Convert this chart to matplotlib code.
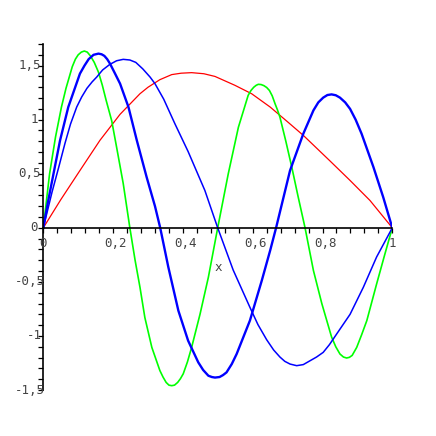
import matplotlib
matplotlib.use("Agg")
import matplotlib.pyplot as plt
import numpy as np

# curves (x, y)
red_x = [0, 0.05, 0.105, 0.1625, 0.22, 0.277, 0.30, 0.334, 0.368, 0.395, 0.425, 0.46, 0.492,
         0.549, 0.597, 0.65, 0.70, 0.745, 0.82, 0.879, 0.936, 1.0]
red_y = [0, 0.26, 0.53, 0.81, 1.05, 1.24, 1.30, 1.37, 1.417, 1.43, 1.435, 1.425, 1.40,
         1.318, 1.24, 1.117, 0.98, 0.855, 0.623, 0.438, 0.253, 0]

green_x = [0, 0.018, 0.035, 0.052, 0.065, 0.083, 0.092, 0.10, 0.109, 0.1175, 0.126, 0.135,
           0.146, 0.158, 0.169, 0.18, 0.196, 0.21, 0.229, 0.248, 0.263, 0.277, 0.291, 0.311,
           0.334, 0.343, 0.352, 0.36, 0.368, 0.376, 0.385, 0.393, 0.401, 0.413, 0.425, 0.449,
           0.473, 0.4997, 0.53, 0.559, 0.587, 0.595, 0.603, 0.61, 0.616, 0.624, 0.632, 0.64,
           0.648, 0.656, 0.664, 0.671, 0.678, 0.695, 0.712, 0.73, 0.75, 0.774, 0.798, 0.826,
           0.838, 0.85, 0.86, 0.869, 0.877, 0.885, 0.898, 0.912, 0.927, 0.955, 0.979, 1.0]
green_y = [0, 0.5, 0.84, 1.117, 1.29, 1.49, 1.56, 1.60, 1.625, 1.635, 1.625, 1.59,
           1.53, 1.44, 1.32, 1.18, 0.99, 0.746, 0.41, 0, -0.30, -0.55, -0.83, -1.106,
           -1.32, -1.38, -1.43, -1.455, -1.46, -1.455, -1.43, -1.395, -1.35, -1.24, -1.106, -0.80,
           -0.457, 0, 0.5, 0.93, 1.225, 1.27, 1.30, 1.318, 1.327, 1.325, 1.315, 1.298,
           1.27, 1.22, 1.148, 1.09, 1.024, 0.80, 0.561, 0.29, 0, -0.395, -0.70, -1.01,
           -1.10, -1.167, -1.195, -1.204, -1.198, -1.18, -1.106, -0.99, -0.858, -0.52, -0.24, 0]

blue_thin_x = [0, 0.025, 0.045, 0.062, 0.078, 0.0957, 0.11, 0.125, 0.14, 0.153, 0.17, 0.19,
               0.21, 0.229, 0.248, 0.265, 0.285, 0.306, 0.32, 0.345, 0.377, 0.415, 0.463,
               0.4997, 0.544, 0.592, 0.615, 0.64, 0.66, 0.678, 0.692, 0.707, 0.726, 0.745,
               0.764, 0.783, 0.802, 0.82, 0.841, 0.879, 0.917, 0.955, 1.0]
blue_thin_y = [0, 0.33, 0.57, 0.78, 0.96, 1.117, 1.21, 1.29, 1.35, 1.394, 1.46, 1.51,
               1.545, 1.558, 1.552, 1.53, 1.47, 1.394, 1.333, 1.19, 0.963, 0.705, 0.345,
               0, -0.39, -0.735, -0.895, -1.035, -1.13, -1.195, -1.235, -1.26, -1.275, -1.265,
               -1.23, -1.195, -1.152, -1.08, -0.98, -0.80, -0.55, -0.27, 0]

blue_thick_x = [0, 0.014, 0.048, 0.0716, 0.105, 0.118, 0.13, 0.144, 0.158, 0.167, 0.175, 0.183,
                0.191, 0.205, 0.22, 0.244, 0.268, 0.296, 0.32, 0.335, 0.358, 0.387, 0.415,
                0.444, 0.458, 0.473, 0.483, 0.492, 0.505, 0.515, 0.525, 0.54, 0.554, 0.592,
                0.626, 0.65, 0.667, 0.707, 0.745, 0.774, 0.788, 0.802, 0.814, 0.826, 0.838,
                0.85, 0.865, 0.879, 0.895, 0.912, 0.946, 0.974, 1.0]
blue_thick_y = [0, 0.25, 0.808, 1.117, 1.426, 1.50, 1.56, 1.60, 1.611, 1.605, 1.59, 1.56,
                1.519, 1.43, 1.333, 1.117, 0.808, 0.47, 0.20, 0, -0.36, -0.766, -1.044,
                -1.244, -1.315, -1.368, -1.38, -1.385, -1.38, -1.362, -1.337, -1.26, -1.167, -0.858,
                -0.488, -0.21, 0, 0.53, 0.87, 1.086, 1.16, 1.204, 1.228, 1.234, 1.226,
                1.204, 1.16, 1.10, 1.0, 0.87, 0.561, 0.283, 0]

xtick_vals = [0, 0.2, 0.4, 0.6, 0.8, 1]
xtick_text = ["0", "0,2", "0,4", "0,6", "0,8", "1"]
ytick_vals = [-1.5, -1, -0.5, 0, 0.5, 1, 1.5]
ytick_text = ["-1,5", "-1", "-0,5", "0", "0,5", "1", "1,5"]

fig = plt.figure(figsize=(4.36, 4.36), dpi=100)
ax = fig.add_axes([43.3 / 436, 46 / 436, 349 / 436, 346 / 436])

ax.plot(red_x, red_y, color="#ff0000", lw=0.9)
ax.plot(green_x, green_y, color="#00ff00", lw=1.2)
ax.plot(blue_thin_x, blue_thin_y, color="#0000ff", lw=1.1)
ax.plot(blue_thick_x, blue_thick_y, color="#0000ff", lw=1.7)

ax.set_xlim(0, 1)
ax.set_ylim(-1.5, 1.7)
for side in ["top", "right"]:
    ax.spines[side].set_visible(False)
ax.spines["left"].set_position(("data", 0))
ax.spines["bottom"].set_position(("data", 0))
for side in ["left", "bottom"]:
    ax.spines[side].set_linewidth(1.2)

ax.set_xticks(np.arange(0, 1.0001, 0.04))
ax.set_yticks(np.arange(-1.5, 1.7001, 0.1))
ax.tick_params(direction="out", length=3.6, width=0.9, labelbottom=False, labelleft=False)

label_style = dict(fontsize=9, family="DejaVu Sans Mono", color="#444444",
                   textcoords="offset pixels", ha="center", va="center")
for v, s in zip(xtick_vals, xtick_text):
    dx = 0 if len(s) == 1 else 2.5
    ax.annotate(s, xy=(v, 0), xytext=(dx, -16), **label_style)
for v, s in zip(ytick_vals, ytick_text):
    dx = -9 if len(s) <= 2 else -13.5
    ax.annotate(s, xy=(0, v), xytext=(dx, 0), **label_style)
ax.annotate("x", xy=(0.5, 0), xytext=(0, -39.5), **label_style)

fig.savefig("out.png", dpi=100)
plt.close(fig)
